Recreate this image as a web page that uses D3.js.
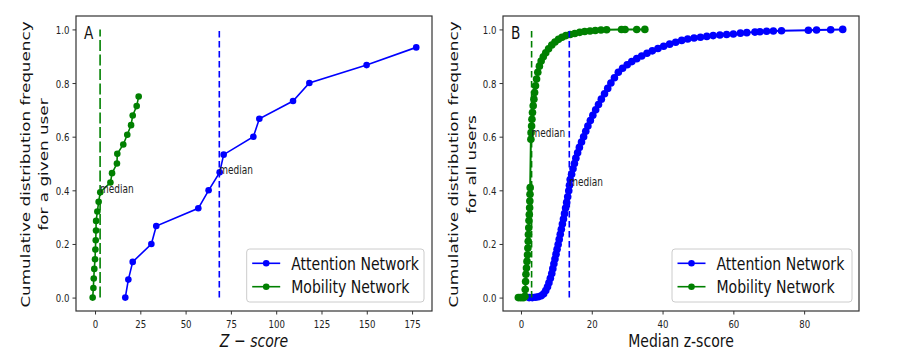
<!DOCTYPE html>
<html><head><meta charset="utf-8">
<script src="https://cdn.jsdelivr.net/npm/d3@7"></script>
<style>body{margin:0;background:#fff} text{font-family:"DejaVu Sans",sans-serif}</style>
</head><body><svg id="c" width="906" height="358"></svg>
<script>
// ---------- DATA ----------
const seriesNames = ["Attention Network", "Mobility Network"];
const seriesColors = ["#0000ff", "#008000"];
const yTicks = [0, 0.2, 0.4, 0.6, 0.8, 1.0];

// Panel A
const aXTicks = [0, 25, 50, 75, 100, 125, 150, 175];
const aAttentionX = [16.7, 18.4, 20.8, 31.1, 33.8, 57.0, 62.7, 68.8, 71.0, 87.4, 90.7, 109.3, 118.3, 149.9, 177.3];
const aAttentionY = [0, 0.067, 0.133, 0.2, 0.267, 0.333, 0.4, 0.467, 0.533, 0.6, 0.667, 0.733, 0.8, 0.867, 0.933];
const aMobilityX = [-1.3, -0.9, -0.7, -0.4, 0, 0.2, 0.4, 0.55, 0.6, 1.3, 2.0, 2.9, 8.5, 9.4, 12.1, 12.3, 15.6, 17.8, 19.9, 20.8, 23.0, 24.1];
const aMobilityY = [0, 0.036, 0.071, 0.107, 0.143, 0.179, 0.214, 0.25, 0.286, 0.321, 0.357, 0.393, 0.429, 0.464, 0.5, 0.536, 0.571, 0.607, 0.643, 0.679, 0.714, 0.75];
const aMedians = [68.6, 2.8];          // attention, mobility
const aMedianLabelY = [0.46, 0.39];

// Panel B
const bXTicks = [0, 20, 40, 60, 80];
const bAttentionX = [2.3,3.2,4.1,4.9,5.7,6.4,7.0,7.5,7.9,8.3,8.7,9.0,9.3,9.6,9.9,10.2,10.5,10.8,11.1,11.4,11.7,12.0,12.3,12.6,12.9,13.2,13.5,13.7,13.9,14.3,14.7,15.1,15.5,16.0,16.5,17.1,17.7,18.3,18.9,19.6,20.3,21.1,21.9,22.7,23.6,24.5,25.4,26.4,27.5,28.7,30.0,31.3,32.7,34.1,35.6,37.1,38.7,40.3,42.0,43.7,45.4,47.1,48.9,50.7,52.5,54.3,56.2,58.1,60.0,62.0,63.8,66.1,67.5,69.4,71.3,73.6,81.2,83.5,87.5,90.9];
const bAttentionY = [0,0,0.001,0.003,0.007,0.014,0.026,0.04,0.055,0.072,0.09,0.108,0.126,0.144,0.162,0.18,0.198,0.217,0.236,0.255,0.274,0.293,0.313,0.334,0.355,0.376,0.398,0.419,0.44,0.46,0.48,0.50,0.52,0.54,0.56,0.58,0.60,0.62,0.64,0.66,0.68,0.70,0.72,0.74,0.76,0.78,0.80,0.82,0.84,0.855,0.868,0.88,0.891,0.901,0.911,0.92,0.929,0.937,0.945,0.952,0.959,0.964,0.968,0.971,0.974,0.977,0.979,0.981,0.983,0.986,0.988,0.99,0.991,0.993,0.994,0.995,0.997,0.998,0.999,1.0];
const bMobilityX = [-0.75,-0.2,0.3,0.8,1.13,1.2,1.3,1.4,1.55,1.7,1.85,1.95,2.05,2.1,2.2,2.26,2.35,2.45,2.5,2.55,2.6,2.8,2.85,3.0,3.1,3.25,3.45,3.65,3.85,4.1,4.4,4.75,5.2,5.7,6.3,7.0,7.8,8.7,9.6,10.6,11.6,12.7,13.9,15.2,16.6,18.0,19.5,21.0,22.6,24.2,28.4,29.4,32.7,35.0];
const bMobilityY = [0,0,0,0,0.005,0.03,0.06,0.087,0.11,0.135,0.16,0.185,0.21,0.235,0.26,0.287,0.31,0.335,0.36,0.385,0.41,0.59,0.615,0.64,0.665,0.69,0.715,0.74,0.765,0.79,0.815,0.84,0.863,0.882,0.898,0.913,0.928,0.942,0.953,0.963,0.971,0.977,0.981,0.985,0.989,0.992,0.994,0.996,0.998,0.999,0.9995,0.9997,0.9999,1.0];
const bMedians = [13.65, 3.0];
const bMedianLabelY = [0.415, 0.60];

// ---------- DRAW ----------
const svg = d3.select("#c");
const SX = 0.78; // horizontal text condensation seen in the reference
const TOP = 16, BOTTOM = 311;

function sText(parent, x, y, str, size, opts = {}) {
  const t = parent.append("text")
    .attr("transform", `translate(${x},${y}) scale(${SX},1)`)
    .attr("font-size", size)
    .attr("fill", opts.fill || "#222")
    .attr("text-anchor", opts.anchor || "start")
    .text(str);
  if (opts.italic) t.attr("font-style", "italic");
  return t;
}

function panel(cfg) {
  const x = d3.scaleLinear().domain(cfg.xDomain).range([cfg.left, cfg.right]);
  const y = d3.scaleLinear().domain([-0.05, 1.05]).range([BOTTOM, TOP]);
  const g = svg.append("g");

  // series
  cfg.series.forEach((s, k) => {
    const pts = s.x.map((v, i) => [v, s.y[i]]);
    g.append("path")
      .attr("d", d3.line().x(d => x(d[0])).y(d => y(d[1]))(pts))
      .attr("fill", "none").attr("stroke", seriesColors[k]).attr("stroke-width", cfg.lineW);
    g.append("g").selectAll("circle").data(pts).join("circle")
      .attr("cx", d => x(d[0])).attr("cy", d => y(d[1])).attr("r", cfg.markerR)
      .attr("fill", seriesColors[k]);
  });

  // median lines + labels
  cfg.medians.forEach((m, k) => {
    g.append("line")
      .attr("x1", x(m)).attr("x2", x(m)).attr("y1", y(0)).attr("y2", y(1))
      .attr("stroke", seriesColors[k]).attr("stroke-width", 1.6)
      .attr("stroke-dasharray", cfg.dash[k]);
    sText(g, x(m), y(cfg.medianLabelY[k]), "median", 11.5, { fill: "#222" });
  });

  // frame
  g.append("rect").attr("x", cfg.left).attr("y", TOP)
    .attr("width", cfg.right - cfg.left).attr("height", BOTTOM - TOP)
    .attr("fill", "none").attr("stroke", "#333").attr("stroke-width", 1.2);

  // axes
  const xa = g.append("g").attr("transform", `translate(0,${BOTTOM})`)
    .call(d3.axisBottom(x).tickValues(cfg.xTicks).tickSize(3.5).tickFormat(d => String(d)));
  xa.select(".domain").remove();
  xa.attr("font-size", 11).attr("font-family", "DejaVu Sans").attr("color", "#333");
  xa.selectAll("text").attr("y", 17.3).attr("dy", null).attr("fill", "#222")
    .attr("transform", `scale(${SX},1)`);

  const ya = g.append("g").attr("transform", `translate(${cfg.left},0)`)
    .call(d3.axisLeft(y).tickValues(yTicks).tickSize(3.5).tickFormat(d3.format(".1f")));
  ya.select(".domain").remove();
  ya.attr("font-size", 11).attr("font-family", "DejaVu Sans").attr("color", "#333");
  ya.selectAll("text").attr("x", -6.5 / SX).attr("dy", "0.36em").attr("fill", "#222")
    .attr("transform", `scale(${SX},1)`);

  // panel letter
  sText(g, cfg.left + 8, 38.5, cfg.letter, 17.5, { fill: "#111" });

  // x label
  sText(g, (cfg.left + cfg.right) / 2, 346.5, cfg.xLabel, 18, { anchor: "middle", italic: cfg.xItalic, fill: "#111" });

  // y label (two lines, rotated)
  cfg.yLabel.forEach((line, i) => {
    g.append("text")
      .attr("transform", `translate(${cfg.yLabelX[i]},${(TOP + BOTTOM) / 2 + 1}) rotate(-90) scale(1,${SX})`)
      .attr("font-size", 16.8).attr("text-anchor", "middle").attr("fill", "#111")
      .text(line);
  });

  // legend
  const lx = cfg.legendX, ly = 249;
  g.append("rect").attr("x", lx).attr("y", ly).attr("width", cfg.legendW).attr("height", 53)
    .attr("rx", 3).attr("fill", "#fff").attr("fill-opacity", 0.8)
    .attr("stroke", "#ccc").attr("stroke-width", 1);
  seriesNames.forEach((name, k) => {
    const ry = ly + 14.3 + k * 23.4;
    g.append("line").attr("x1", lx + 5.5).attr("x2", lx + 33.5).attr("y1", ry).attr("y2", ry)
      .attr("stroke", seriesColors[k]).attr("stroke-width", 1.6);
    g.append("circle").attr("cx", lx + 19.5).attr("cy", ry).attr("r", 3.3).attr("fill", seriesColors[k]);
    sText(g, lx + 44.5, ry + 6.5, name, 18, { fill: "#111" });
  });
}

panel({
  left: 76, right: 432, xDomain: [-10.5, 186], xTicks: aXTicks, letter: "A",
  series: [{ x: aAttentionX, y: aAttentionY }, { x: aMobilityX, y: aMobilityY }],
  medians: aMedians, medianLabelY: aMedianLabelY, dash: ["6.5,3.5", "11,3.5"],
  markerR: 3.3, lineW: 1.6,
  xLabel: "Z \u2212 score", xItalic: true,
  yLabel: ["Cumulative distribution frequency", "for a given user"], yLabelX: [30, 47.5],
  legendX: 246.7, legendW: 177.3
});
panel({
  left: 503, right: 859, xDomain: [-5.08, 95.5], xTicks: bXTicks, letter: "B",
  series: [{ x: bAttentionX, y: bAttentionY }, { x: bMobilityX, y: bMobilityY }],
  medians: bMedians, medianLabelY: bMedianLabelY, dash: ["6.5,3.5", "6.5,3.5"],
  markerR: 3.8, lineW: 2,
  xLabel: "Median z-score", xItalic: false,
  yLabel: ["Cumulative distribution frequency", "for all users"], yLabelX: [458, 476],
  legendX: 672, legendW: 180
});
</script></body></html>
